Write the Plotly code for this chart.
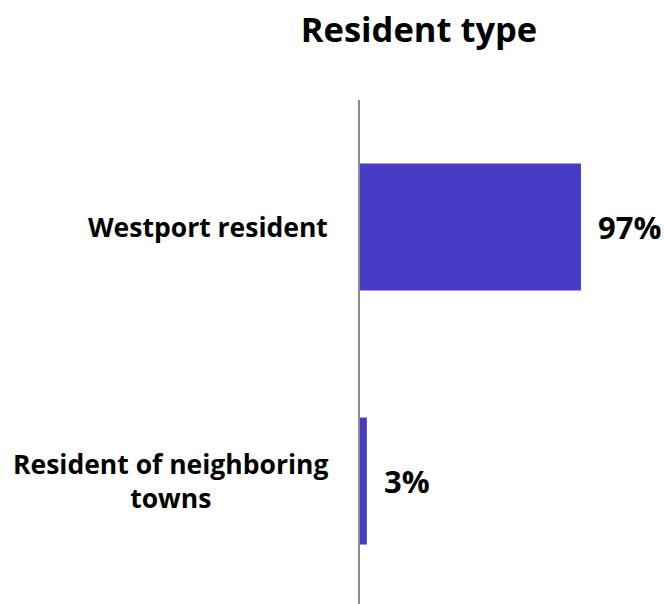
import plotly.graph_objects as go

categories = ["Westport resident", "Resident of neighboring<br>towns"]
values = [97, 3]
value_labels = ["97%", "3%"]
title_text = "Resident type"

FONT = "Open Sans"
BAR_COLOR = "#463CC6"

fig = go.Figure()
fig.add_trace(go.Bar(
    x=values,
    y=categories,
    orientation="h",
    marker=dict(color=BAR_COLOR, line=dict(width=0)),
    width=0.5,
    hoverinfo="skip",
))

annotations = []
for c, v, t in zip(categories, values, value_labels):
    annotations.append(dict(
        x=v, y=c, xref="x", yref="y", text="<b>%s</b>" % t,
        showarrow=False, xanchor="left", yanchor="middle", xshift=15,
        font=dict(family=FONT, size=31, color="#000000"),
    ))
    annotations.append(dict(
        x=0, y=c, xref="paper", yref="y", text="<b>%s</b>" % c,
        showarrow=False, xanchor="right", yanchor="middle", xshift=-30,
        align="center",
        font=dict(family=FONT, size=26.5, color="#000000"),
    ))

fig.update_layout(
    width=664, height=604,
    margin=dict(l=360, r=0, t=100, b=0),
    paper_bgcolor="white", plot_bgcolor="white",
    showlegend=False,
    title=dict(text="<b>%s</b>" % title_text, x=419 / 664, xanchor="center",
               y=1 - 30 / 604, yanchor="middle",
               font=dict(family=FONT, size=34.5, color="#000000")),
    xaxis=dict(range=[0, 304 / 2.278], visible=False, fixedrange=True),
    yaxis=dict(type="category", range=[1.484, -0.5], showline=True,
               linecolor="#8c8c8c", linewidth=2, showticklabels=False,
               showgrid=False, zeroline=False, ticks=""),
    annotations=annotations,
)

fig.write_html("out.html")
